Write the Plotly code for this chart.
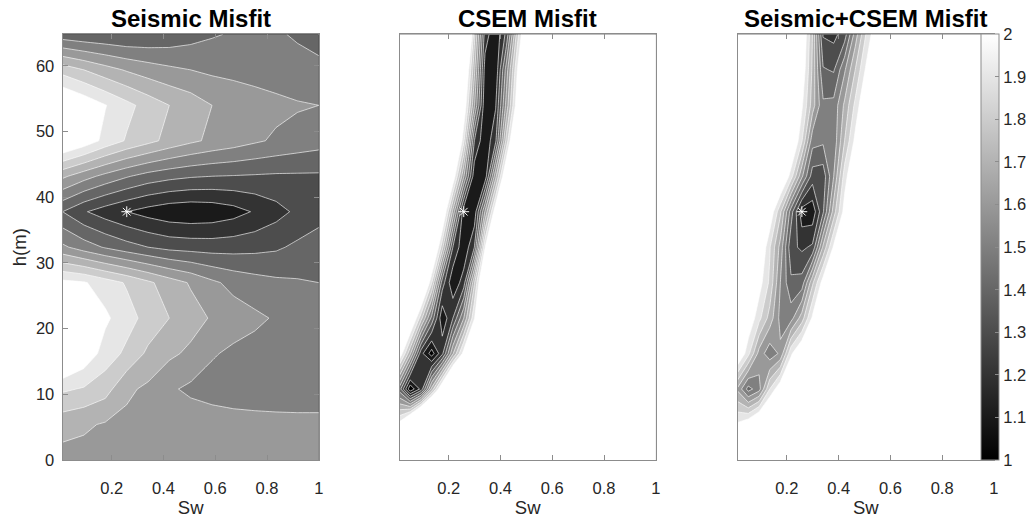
import plotly.graph_objects as go

# ---------------- data ----------------
h_m = [0, 5.4, 10.8, 16.2, 21.6, 27.0, 32.4, 37.8, 43.2, 48.6, 54.0, 59.4, 64.8]

sw_seismic = [0.01, 0.0925, 0.175, 0.2575, 0.34, 0.4225, 0.505, 0.5875, 0.67, 0.7525, 0.835, 0.9175, 1.0]
sw_grid = [0.01, 0.051, 0.093, 0.134, 0.175, 0.216, 0.258, 0.299, 0.34, 0.381, 0.423, 0.464, 0.505,
           0.546, 0.588, 0.629, 0.67, 0.711, 0.753, 0.794, 0.835, 0.876, 0.918, 0.959, 1.0]

seismic_misfit = [
    [1.663, 1.665, 1.67, 1.67, 1.67, 1.67, 1.67, 1.67, 1.67, 1.67, 1.67, 1.67, 1.67],
    [1.737, 1.715, 1.69, 1.675, 1.67, 1.665, 1.66, 1.65, 1.64, 1.635, 1.63, 1.625, 1.62],
    [1.917, 1.89, 1.84, 1.72, 1.68, 1.615, 1.58, 1.56, 1.55, 1.545, 1.545, 1.55, 1.56],
    [2.2, 2.08, 1.955, 1.878, 1.78, 1.72, 1.68, 1.61, 1.58, 1.565, 1.56, 1.56, 1.56],
    [2.3, 2.15, 2.02, 1.94, 1.865, 1.80, 1.74, 1.69, 1.65, 1.62, 1.59, 1.57, 1.56],
    [2.03, 2.01, 1.95, 1.89, 1.82, 1.75, 1.69, 1.62, 1.57, 1.54, 1.52, 1.51, 1.50],
    [1.62, 1.55, 1.49, 1.44, 1.40, 1.37, 1.36, 1.355, 1.36, 1.37, 1.385, 1.42, 1.45],
    [1.40, 1.31, 1.25, 1.201, 1.16, 1.13, 1.12, 1.13, 1.16, 1.21, 1.265, 1.32, 1.36],
    [1.72, 1.64, 1.57, 1.51, 1.46, 1.43, 1.41, 1.40, 1.395, 1.39, 1.385, 1.385, 1.385],
    [2.15, 2.07, 1.97, 1.89, 1.83, 1.77, 1.72, 1.68, 1.65, 1.615, 1.585, 1.56, 1.54],
    [2.15, 2.08, 2.005, 1.93, 1.86, 1.80, 1.755, 1.70, 1.67, 1.645, 1.625, 1.61, 1.60],
    [1.86, 1.80, 1.74, 1.69, 1.65, 1.62, 1.60, 1.58, 1.57, 1.56, 1.55, 1.53, 1.52],
    [1.44, 1.42, 1.41, 1.40, 1.41, 1.43, 1.46, 1.49, 1.51, 1.52, 1.51, 1.49, 1.47],
]

csem_misfit = [
    [3.0, 3.0, 3.0, 3.0, 3.0, 3.0, 3.0, 3.0, 3.0, 3.0, 3.0, 3.0, 3.0, 3.0, 3.0, 3.0, 3.0, 3.0, 3.0, 3.0, 3.0, 3.0, 3.0, 3.0, 3.0],
    [2.05, 2.4, 2.8, 3.0, 3.0, 3.0, 3.0, 3.0, 3.0, 3.0, 3.0, 3.0, 3.0, 3.0, 3.0, 3.0, 3.0, 3.0, 3.0, 3.0, 3.0, 3.0, 3.0, 3.0, 3.0],
    [1.45, 1.02, 1.23, 1.73, 2.16, 2.6, 3.0, 3.0, 3.0, 3.0, 3.0, 3.0, 3.0, 3.0, 3.0, 3.0, 3.0, 3.0, 3.0, 3.0, 3.0, 3.0, 3.0, 3.0, 3.0],
    [2.1, 1.72, 1.236, 1.05, 1.277, 1.69, 2.05, 2.4, 2.76, 3.0, 3.0, 3.0, 3.0, 3.0, 3.0, 3.0, 3.0, 3.0, 3.0, 3.0, 3.0, 3.0, 3.0, 3.0, 3.0],
    [2.6, 2.22, 1.84, 1.47, 1.12, 1.3, 1.6, 1.99, 2.37, 2.76, 3.0, 3.0, 3.0, 3.0, 3.0, 3.0, 3.0, 3.0, 3.0, 3.0, 3.0, 3.0, 3.0, 3.0, 3.0],
    [3.0, 2.79, 2.35, 1.91, 1.35, 1.12, 1.25, 1.79, 2.29, 2.79, 3.0, 3.0, 3.0, 3.0, 3.0, 3.0, 3.0, 3.0, 3.0, 3.0, 3.0, 3.0, 3.0, 3.0, 3.0],
    [3.0, 3.0, 2.77, 2.3, 1.84, 1.3, 1.12, 1.3, 1.99, 2.53, 3.0, 3.0, 3.0, 3.0, 3.0, 3.0, 3.0, 3.0, 3.0, 3.0, 3.0, 3.0, 3.0, 3.0, 3.0],
    [3.0, 3.0, 3.0, 2.7, 2.19, 1.675, 1.13, 1.13, 1.61, 2.09, 2.58, 3.0, 3.0, 3.0, 3.0, 3.0, 3.0, 3.0, 3.0, 3.0, 3.0, 3.0, 3.0, 3.0, 3.0],
    [3.0, 3.0, 3.0, 3.0, 2.58, 2.1, 1.61, 1.13, 1.13, 1.67, 2.18, 2.68, 3.0, 3.0, 3.0, 3.0, 3.0, 3.0, 3.0, 3.0, 3.0, 3.0, 3.0, 3.0, 3.0],
    [3.0, 3.0, 3.0, 3.0, 2.93, 2.43, 1.924, 1.3, 1.12, 1.28, 1.84, 2.31, 2.77, 3.0, 3.0, 3.0, 3.0, 3.0, 3.0, 3.0, 3.0, 3.0, 3.0, 3.0, 3.0],
    [3.0, 3.0, 3.0, 3.0, 3.0, 2.6, 2.11, 1.61, 1.12, 1.19, 1.64, 2.07, 2.5, 2.95, 3.0, 3.0, 3.0, 3.0, 3.0, 3.0, 3.0, 3.0, 3.0, 3.0, 3.0],
    [3.0, 3.0, 3.0, 3.0, 3.0, 2.76, 2.24, 1.725, 1.157, 1.12, 1.55, 1.99, 2.43, 2.87, 3.0, 3.0, 3.0, 3.0, 3.0, 3.0, 3.0, 3.0, 3.0, 3.0, 3.0],
    [3.0, 3.0, 3.0, 3.0, 3.0, 2.89, 2.6, 1.835, 1.25, 1.12, 1.33, 1.844, 2.24, 2.64, 3.0, 3.0, 3.0, 3.0, 3.0, 3.0, 3.0, 3.0, 3.0, 3.0, 3.0],
]

joint_misfit = [
    [2.4, 2.4, 2.4, 2.4, 2.4, 2.4, 2.4, 2.4, 2.4, 2.4, 2.4, 2.4, 2.4, 2.4, 2.4, 2.4, 2.4, 2.4, 2.4, 2.4, 2.4, 2.4, 2.4, 2.4, 2.4],
    [2.02, 2.1, 2.25, 2.35, 2.4, 2.4, 2.4, 2.4, 2.4, 2.4, 2.4, 2.4, 2.4, 2.4, 2.4, 2.4, 2.4, 2.4, 2.4, 2.4, 2.4, 2.4, 2.4, 2.4, 2.4],
    [1.68, 1.46, 1.56, 1.9, 2.1, 2.2, 2.35, 2.4, 2.4, 2.4, 2.4, 2.4, 2.4, 2.4, 2.4, 2.4, 2.4, 2.4, 2.4, 2.4, 2.4, 2.4, 2.4, 2.4, 2.4],
    [2.15, 1.93, 1.66, 1.535, 1.62, 1.98, 2.15, 2.3, 2.4, 2.4, 2.4, 2.4, 2.4, 2.4, 2.4, 2.4, 2.4, 2.4, 2.4, 2.4, 2.4, 2.4, 2.4, 2.4, 2.4],
    [2.4, 2.1, 1.93, 1.76, 1.57, 1.56, 1.75, 2.02, 2.2, 2.4, 2.4, 2.4, 2.4, 2.4, 2.4, 2.4, 2.4, 2.4, 2.4, 2.4, 2.4, 2.4, 2.4, 2.4, 2.4],
    [2.5, 2.35, 2.05, 1.88, 1.6, 1.42, 1.44, 1.78, 2.055, 2.3, 2.4, 2.4, 2.4, 2.4, 2.4, 2.4, 2.4, 2.4, 2.4, 2.4, 2.4, 2.4, 2.4, 2.4, 2.4],
    [2.31, 2.29, 2.16, 1.91, 1.665, 1.33, 1.28, 1.317, 1.72, 2.02, 2.2, 2.4, 2.4, 2.4, 2.4, 2.4, 2.4, 2.4, 2.4, 2.4, 2.4, 2.4, 2.4, 2.4, 2.4],
    [2.2, 2.18, 2.155, 2.1, 1.82, 1.45, 1.14, 1.13, 1.385, 1.75, 2.05, 2.2, 2.4, 2.4, 2.4, 2.4, 2.4, 2.4, 2.4, 2.4, 2.4, 2.4, 2.4, 2.4, 2.4],
    [2.4, 2.4, 2.4, 2.3, 2.2, 1.95, 1.62, 1.35, 1.34, 1.6, 1.95, 2.15, 2.3, 2.4, 2.4, 2.4, 2.4, 2.4, 2.4, 2.4, 2.4, 2.4, 2.4, 2.4, 2.4],
    [2.4, 2.4, 2.4, 2.4, 2.35, 2.18, 1.91, 1.54, 1.52, 1.53, 1.8, 2.03, 2.25, 2.4, 2.4, 2.4, 2.4, 2.4, 2.4, 2.4, 2.4, 2.4, 2.4, 2.4, 2.4],
    [2.4, 2.4, 2.4, 2.4, 2.4, 2.29, 2.02, 1.75, 1.52, 1.53, 1.72, 1.925, 2.13, 2.3, 2.4, 2.4, 2.4, 2.4, 2.4, 2.4, 2.4, 2.4, 2.4, 2.4, 2.4],
    [2.4, 2.4, 2.4, 2.4, 2.4, 2.3, 2.1, 1.78, 1.41, 1.39, 1.585, 1.8, 2.015, 2.23, 2.4, 2.4, 2.4, 2.4, 2.4, 2.4, 2.4, 2.4, 2.4, 2.4, 2.4],
    [2.4, 2.4, 2.4, 2.4, 2.4, 2.2, 2.15, 1.8, 1.29, 1.27, 1.35, 1.645, 1.9, 2.1, 2.3, 2.4, 2.4, 2.4, 2.4, 2.4, 2.4, 2.4, 2.4, 2.4, 2.4],
]

true_sw = [0.258]
true_h = [37.8]

panel_titles = ["Seismic Misfit", "CSEM Misfit", "Seismic+CSEM Misfit"]
x_ticks = [0.2, 0.4, 0.6, 0.8, 1.0]
x_ticktext = ["0.2", "0.4", "0.6", "0.8", "1"]
y_ticks = [0, 10, 20, 30, 40, 50, 60]
cbar_ticks = [1, 1.1, 1.2, 1.3, 1.4, 1.5, 1.6, 1.7, 1.8, 1.9, 2]
cbar_ticktext = ["1", "1.1", "1.2", "1.3", "1.4", "1.5", "1.6", "1.7", "1.8", "1.9", "2"]

# ---------------- styling ----------------
W, H = 1032, 523
FONT = "Liberation Sans, Arial, sans-serif"
FRAME = "#8c8c8c"
TXT = "#262626"

# band above level L gets gray(L-1), like MATLAB contourf with caxis [1 2]
fill_scale = [[0, "rgb(0,0,0)"], [0.1 / 1.1, "rgb(0,0,0)"], [1, "rgb(255,255,255)"]]

px_left = [63, 402.3, 742.7]
px_width = 258
y_dom = [1 - 468 / H, 1 - 35 / H]


def contour(x, z, ax):
    return go.Contour(
        x=x, y=h_m, z=z, xaxis="x" + ax, yaxis="y" + ax,
        autocontour=False,
        contours=dict(start=1.0, end=2.0, size=0.1, coloring="fill", showlines=True),
        line=dict(color="rgba(255,255,255,0.9)", width=0.7, smoothing=0),
        colorscale=fill_scale, zmin=0.95, zmax=2.05, zauto=False,
        showscale=False, hoverinfo="skip",
    )


def star(ax):
    return go.Scatter(
        x=true_sw, y=true_h, mode="markers", xaxis="x" + ax, yaxis="y" + ax,
        marker=dict(symbol="asterisk-open", size=9, color="white",
                    line=dict(color="white", width=1)),
        showlegend=False, hoverinfo="skip",
    )


fig = go.Figure()
fig.add_trace(contour(sw_seismic, seismic_misfit, ""))
fig.add_trace(contour(sw_grid, csem_misfit, "2"))
fig.add_trace(contour(sw_grid, joint_misfit, "3"))
for a in ["", "2", "3"]:
    fig.add_trace(star(a))

# colour bar (continuous gray map 1..2)
fig.add_trace(go.Scatter(
    x=[None], y=[None], mode="markers", xaxis="x3", yaxis="y3",
    marker=dict(colorscale=[[0, "black"], [1, "white"]], cmin=1, cmax=2, color=[1.5],
                showscale=True,
                colorbar=dict(x=988 / W, xanchor="left", xpad=0, thickness=18,
                              y=(y_dom[0] + y_dom[1]) / 2, yanchor="middle", ypad=0,
                              len=y_dom[1] - y_dom[0], lenmode="fraction",
                              outlinewidth=1, outlinecolor=FRAME,
                              tickvals=cbar_ticks, ticktext=cbar_ticktext,
                              ticks="inside", ticklen=4, tickcolor=FRAME,
                              tickfont=dict(family=FONT, size=16.5, color=TXT))),
    showlegend=False, hoverinfo="skip",
))

layout = dict(
    width=W, height=H, autosize=False,
    margin=dict(l=0, r=0, t=0, b=0),
    paper_bgcolor="white", plot_bgcolor="white",
    showlegend=False,
    font=dict(family=FONT, color=TXT),
)

for i, a in enumerate(["", "2", "3"]):
    x0 = px_left[i] / W
    x1 = (px_left[i] + px_width) / W
    layout["xaxis" + a] = dict(
        domain=[x0, x1], range=[0.01, 1.0], anchor="y" + a,
        tickvals=x_ticks, ticktext=x_ticktext, ticks="inside", ticklen=5,
        tickcolor=FRAME, showline=True, linecolor=FRAME, linewidth=1, mirror="ticks",
        showgrid=False, zeroline=False,
        tickfont=dict(family=FONT, size=16.5, color=TXT),
        ticklabelstandoff=13,
        title=dict(text="Sw", font=dict(family=FONT, size=18.5, color=TXT), standoff=2),
    )
    yax = dict(
        domain=y_dom, range=[0, 64.8], anchor="x" + a,
        showline=True, linecolor=FRAME, linewidth=1,
        showgrid=False, zeroline=False,
    )
    if i == 0:
        yax.update(tickvals=y_ticks, ticks="inside", ticklen=5, tickcolor=FRAME,
                   mirror="ticks", tickfont=dict(family=FONT, size=16.5, color=TXT),
                   ticklabelstandoff=4,
                   title=dict(text="h(m)", font=dict(family=FONT, size=18.5, color=TXT),
                              standoff=4))
    else:
        yax.update(showticklabels=False, ticks="", mirror=True)
    layout["yaxis" + a] = yax

annotations = []
for i, t in enumerate(panel_titles):
    annotations.append(dict(
        text="<b>" + t + "</b>", xref="paper", yref="paper",
        x=(px_left[i] + px_width / 2) / W, y=y_dom[1],
        xanchor="center", yanchor="bottom", yshift=0, showarrow=False,
        font=dict(family=FONT, size=24, color="black"),
    ))
layout["annotations"] = annotations

fig.update_layout(**layout)
fig.write_html("out.html")
